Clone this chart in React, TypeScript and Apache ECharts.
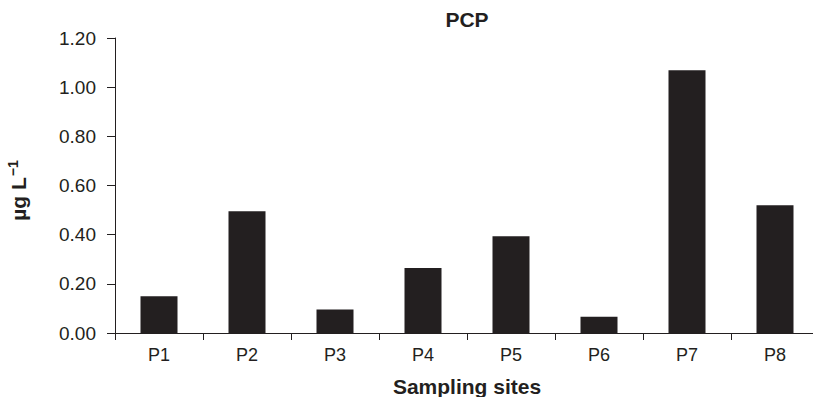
import React, { useEffect, useRef } from "react";
import * as echarts from "echarts";

const categories = ["P1", "P2", "P3", "P4", "P5", "P6", "P7", "P8"];
const values = [0.15, 0.495, 0.096, 0.264, 0.394, 0.066, 1.069, 0.52];
const titleText = "PCP";
const xName = "Sampling sites";

const FONT = '"Liberation Sans", Arial, sans-serif';
const INK = "#231f20";

export default function App() {
  const ref = useRef<HTMLDivElement>(null);
  useEffect(() => {
    if (!ref.current) return;
    const chart = echarts.init(ref.current, null, { renderer: "svg" });
    chart.setOption({
      animation: false,
      backgroundColor: "#ffffff",
      textStyle: { fontFamily: FONT, color: INK },
      title: {
        text: titleText,
        left: 467,
        top: 9,
        padding: 0,
        textAlign: "center",
        textStyle: { fontFamily: FONT, fontSize: 21, fontWeight: "bold", color: INK },
      },
      grid: {
        left: 115,
        top: 38,
        width: 704,
        height: 295,
        containLabel: false,
        outerBoundsMode: "none",
      },
      xAxis: {
        type: "category",
        data: categories,
        name: xName,
        nameLocation: "middle",
        nameGap: 43,
        nameTextStyle: { fontFamily: FONT, fontSize: 21, fontWeight: "bold", color: INK },
        axisLine: { lineStyle: { color: INK, width: 1 } },
        axisTick: { show: true, length: 7, lineStyle: { color: INK } },
        axisLabel: { fontFamily: FONT, fontSize: 18, color: INK, margin: 13 },
        splitLine: { show: false },
      },
      yAxis: {
        type: "value",
        min: 0,
        max: 1.2,
        interval: 0.2,
        name: "{a|µg L}{b|−1}",
        nameLocation: "middle",
        nameGap: 84,
        nameRotate: 90,
        nameTextStyle: {
          fontFamily: FONT,
          color: INK,
          rich: {
            a: { fontFamily: FONT, fontSize: 21, fontWeight: "bold", color: INK },
            b: {
              fontFamily: FONT,
              fontSize: 14,
              fontWeight: "bold",
              color: INK,
              padding: [0, 10, 11, 1],
            },
          },
        },
        axisLine: { show: true, lineStyle: { color: INK, width: 1 } },
        axisTick: { show: true, length: 8, lineStyle: { color: INK } },
        axisLabel: {
          fontFamily: FONT,
          fontSize: 19,
          color: INK,
          margin: 19,
          formatter: (v: number) => v.toFixed(2),
        },
        splitLine: { show: false },
      },
      series: [
        {
          type: "bar",
          data: values,
          barWidth: 37,
          itemStyle: { color: INK },
        },
      ],
    });
    return () => chart.dispose();
  }, []);
  return (
    <div
      ref={ref}
      style={{ position: "absolute", left: 0, top: 0, width: 813, height: 397 }}
    />
  );
}
